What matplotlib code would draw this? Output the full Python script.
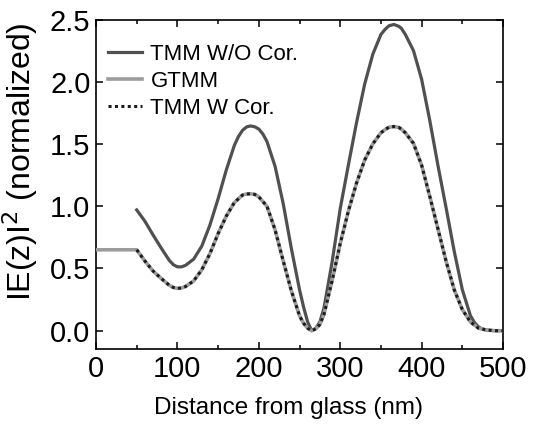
import matplotlib
matplotlib.use("Agg")
import matplotlib.pyplot as plt
from matplotlib import font_manager
from matplotlib.ticker import MultipleLocator

# ---- data ----
z_wo = [50, 60, 70, 80, 90, 95, 100, 105, 110, 120, 130, 140, 150, 160, 170,
        175, 180, 185, 190, 195, 200, 205, 210, 220, 230, 240, 250, 255, 260,
        265, 270, 275, 280, 290, 300, 310, 320, 330, 340, 350, 355, 360, 366,
        372, 375, 380, 390, 400, 410, 420, 430, 440, 450, 460, 465, 470, 475,
        480, 490, 500]
tmm_wo = [0.97, 0.88, 0.77, 0.665, 0.565, 0.53, 0.513, 0.513, 0.525, 0.575,
          0.68, 0.85, 1.06, 1.29, 1.49, 1.56, 1.61, 1.637, 1.645, 1.638, 1.62,
          1.58, 1.52, 1.32, 1.02, 0.66, 0.33, 0.19, 0.07, 0.0, 0.02, 0.07, 0.18,
          0.55, 0.98, 1.33, 1.67, 1.98, 2.22, 2.38, 2.42, 2.45, 2.46, 2.445,
          2.43, 2.38, 2.25, 2.02, 1.69, 1.33, 0.99, 0.64, 0.33, 0.12, 0.065,
          0.03, 0.012, 0.005, 0.0, 0.0]

z_wc = [50, 60, 70, 80, 90, 95, 100, 105, 110, 120, 130, 140, 150, 160, 170,
        180, 185, 190, 195, 200, 210, 220, 230, 240, 250, 255, 260, 265, 270,
        275, 280, 290, 300, 310, 320, 330, 340, 350, 355, 360, 366, 372, 375,
        380, 390, 400, 410, 420, 430, 440, 450, 460, 470, 480, 490, 500]
tmm_wc = [0.65, 0.56, 0.48, 0.42, 0.365, 0.347, 0.34, 0.343, 0.355, 0.40, 0.49,
          0.62, 0.78, 0.92, 1.03, 1.09, 1.098, 1.10, 1.095, 1.075, 1.0, 0.81,
          0.56, 0.32, 0.12, 0.06, 0.02, 0.0, 0.015, 0.05, 0.13, 0.40, 0.70, 0.96,
          1.185, 1.37, 1.50, 1.59, 1.615, 1.635, 1.64, 1.633, 1.62, 1.59, 1.505,
          1.33, 1.08, 0.82, 0.56, 0.33, 0.17, 0.07, 0.02, 0.005, 0.0, 0.0]

z_gt = [0, 50, 60, 70, 80, 90, 95, 100, 105, 110, 120, 130, 140, 150, 160, 170,
        180, 185, 190, 195, 200, 210, 220, 230, 240, 250, 255, 260, 265, 270,
        275, 280, 290, 300, 310, 320, 330, 340, 350, 355, 360, 366, 372, 375,
        380, 390, 400, 410, 420, 430, 440, 450, 460, 470, 480, 490, 500]
gtmm = [0.65, 0.65, 0.56, 0.48, 0.42, 0.365, 0.347, 0.34, 0.343, 0.355, 0.40,
        0.49, 0.62, 0.78, 0.92, 1.03, 1.09, 1.098, 1.10, 1.095, 1.075, 1.0, 0.81,
        0.56, 0.32, 0.12, 0.06, 0.02, 0.0, 0.015, 0.05, 0.13, 0.40, 0.70, 0.96,
        1.185, 1.37, 1.50, 1.59, 1.615, 1.635, 1.64, 1.633, 1.62, 1.59, 1.505,
        1.33, 1.08, 0.82, 0.56, 0.33, 0.17, 0.07, 0.02, 0.005, 0.0, 0.0]

labels = ["TMM W/O Cor.", "GTMM", "TMM W Cor."]
x_ticks = [0, 100, 200, 300, 400, 500]
y_ticks = [0.0, 0.5, 1.0, 1.5, 2.0, 2.5]

# ---- fonts ----
names = {f.name for f in font_manager.fontManager.ttflist}
base = "Liberation Sans" if "Liberation Sans" in names else "DejaVu Sans"
plt.rcParams["font.family"] = [base, "DejaVu Sans"]

fig = plt.figure(figsize=(5.4, 4.24), dpi=100)
ax = fig.add_axes([0.1778, 0.1769, 0.7537, 0.7771])

ax.plot(z_wo, tmm_wo, color="#505050", lw=2.3, label=labels[0], zorder=3,
        solid_joinstyle="round")
ax.plot(z_gt, gtmm, color="#9c9c9c", lw=2.6, label=labels[1], zorder=4,
        solid_joinstyle="round")
ax.plot(z_wc, tmm_wc, color="#1c1c1c", lw=2.2, linestyle=(0, (1, 1.1)),
        label=labels[2], zorder=5)

ax.set_xlim(0, 500)
ax.set_ylim(-0.147, 2.5)
ax.set_xticks(x_ticks)
ax.set_yticks(y_ticks)
ax.set_yticklabels([f"{v:.1f}" for v in y_ticks])
ax.xaxis.set_minor_locator(MultipleLocator(50))

ax.tick_params(which="both", direction="in", top=True, right=True, width=1.1)
ax.tick_params(which="major", length=5, labelsize=21, pad=4)
ax.tick_params(which="minor", length=3)
for s in ax.spines.values():
    s.set_linewidth(1.2)

ax.set_xlabel("Distance from glass (nm)", fontsize=17.5)
ax.xaxis.set_label_coords(0.472, -0.146)
ax.set_ylabel("IE(z)I$^2$ (normalized)", fontsize=23)
ax.yaxis.set_label_coords(-0.138, 0.57)

leg = ax.legend(loc="upper left", bbox_to_anchor=(0.03, 0.927), frameon=False,
                prop={"family": base, "size": 16}, handlelength=1.5,
                handletextpad=0.4, labelspacing=0.27, borderpad=0,
                borderaxespad=0)

fig.savefig("out.png", dpi=100)
